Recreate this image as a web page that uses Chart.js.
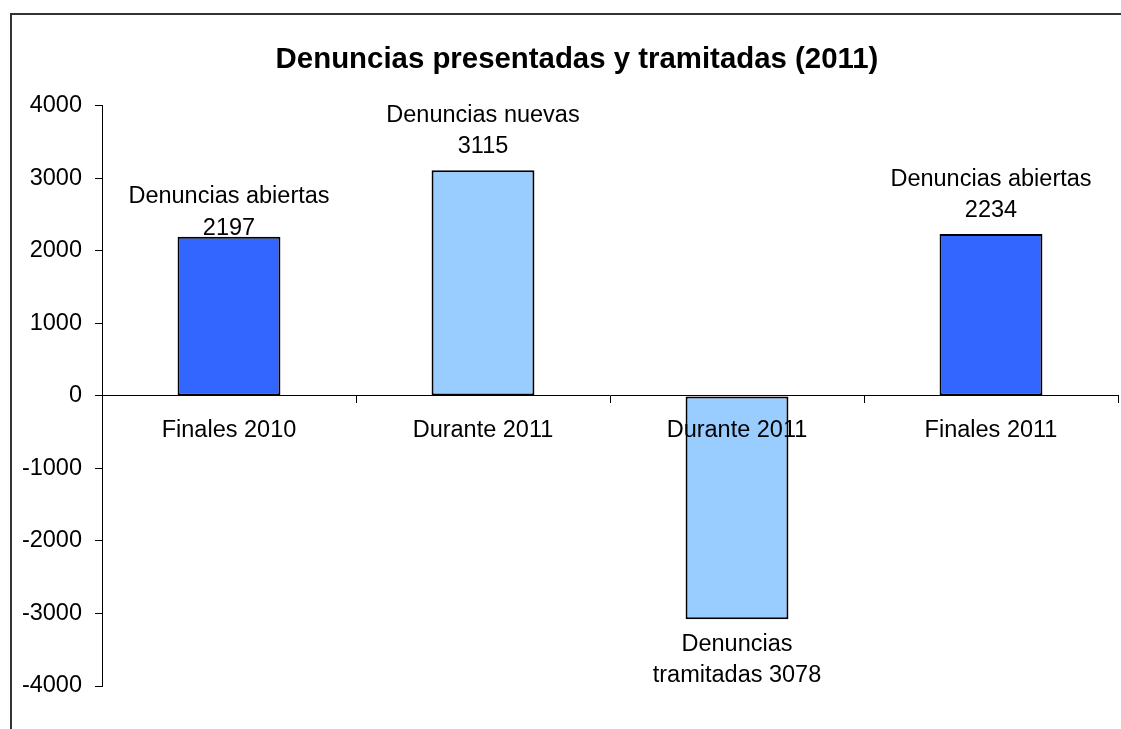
<!DOCTYPE html>
<html>
<head>
<meta charset="utf-8">
<script src="https://cdn.jsdelivr.net/npm/chart.js@4/dist/chart.umd.min.js"></script>
<style>
  html, body { margin: 0; padding: 0; background: #fff; overflow: hidden; }
  #frame {
    position: absolute; left: 10px; top: 13px; width: 1200px; height: 800px;
    border-left: 2px solid #333; border-top: 2px solid #333;
  }
  #chart { position: absolute; left: 0; top: 0; }
</style>
</head>
<body>
<div id="frame"></div>
<canvas id="chart" width="1121" height="729"></canvas>
<script>
const categories = ['Finales 2010', 'Durante 2011', 'Durante 2011', 'Finales 2011'];
const values = [2197, 3115, -3078, 2234];
const barColors = ['#3366FF', '#99CCFF', '#99CCFF', '#3366FF'];
// {v} gets replaced with the bar value (shown without sign)
const labelLines = [
  ['Denuncias abiertas', '{v}'],
  ['Denuncias nuevas', '{v}'],
  ['Denuncias', 'tramitadas {v}'],
  ['Denuncias abiertas', '{v}'],
];
const yMin = -4000, yMax = 4000, yStep = 1000;
const title = 'Denuncias presentadas y tramitadas (2011)';

const FONT = '"Liberation Sans", Arial, sans-serif';
Chart.defaults.font.family = FONT;
Chart.defaults.font.size = 23.5;
Chart.defaults.color = '#000';

const barLabels = {
  id: 'barLabels',
  afterLayout(chart) {
    // the original title sits a bit right of the canvas centre
    if (chart.titleBlock) chart.titleBlock.left += 36;
  },
  afterDatasetsDraw(chart, args, opts) {
    const ctx = chart.ctx;
    const meta = chart.getDatasetMeta(0);
    ctx.save();
    ctx.font = '23.5px ' + FONT;
    ctx.fillStyle = '#000';
    ctx.textAlign = 'center';
    ctx.textBaseline = 'alphabetic';
    meta.data.forEach((bar, i) => {
      const v = values[i];
      const lines = labelLines[i].map(s => s.replace('{v}', Math.abs(v)));
      const nudge = (opts.nudge && opts.nudge[i]) || 0;
      if (v >= 0) {
        let y = bar.y - opts.gap + nudge;
        for (let k = lines.length - 1; k >= 0; k--) {
          ctx.fillText(lines[k], bar.x, y);
          y -= opts.lineHeight;
        }
      } else {
        let y = bar.y + opts.lineHeight + nudge;
        lines.forEach(l => {
          ctx.fillText(l, bar.x, y);
          y += opts.lineHeight;
        });
      }
    });
    ctx.restore();
  }
};

new Chart(document.getElementById('chart'), {
  type: 'bar',
  data: {
    labels: categories,
    datasets: [{
      data: values,
      backgroundColor: barColors,
      borderColor: '#000',
      borderWidth: 2,
      borderSkipped: false,
      categoryPercentage: 1,
      barPercentage: 0.405,
    }]
  },
  options: {
    responsive: false,
    animation: false,
    layout: { padding: { left: 0, right: 3, top: 0, bottom: 43 } },
    plugins: {
      legend: { display: false },
      tooltip: { enabled: false },
      title: {
        display: true,
        text: title,
        font: { size: 29.4, weight: 'bold' },
        color: '#000',
        padding: { top: 42, bottom: 28.7 },
      },
      barLabels: { gap: 17, lineHeight: 31.5, nudge: [15, 0, 0, 0] },
    },
    scales: {
      x: {
        position: { y: 0 },
        grid: { drawOnChartArea: false, tickLength: 7, color: '#000' },
        border: { color: '#000', width: 1, z: 1 },
        ticks: { z: 1, padding: 13, maxRotation: 0, autoSkip: false },
      },
      y: {
        min: yMin,
        max: yMax,
        afterFit(scale) { scale.width = 102; },
        grid: { drawOnChartArea: false, tickLength: 7, color: '#000' },
        border: { color: '#000', width: 1 },
        ticks: { stepSize: yStep, padding: 13, callback: v => String(v) },
      }
    }
  },
  plugins: [barLabels]
});
</script>
</body>
</html>
